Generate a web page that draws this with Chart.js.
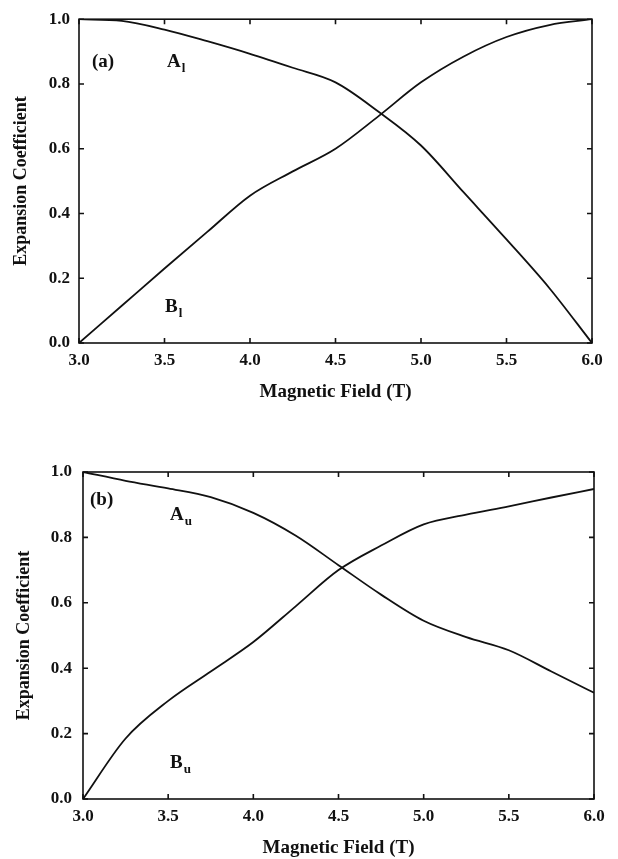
<!DOCTYPE html>
<html>
<head>
<meta charset="utf-8">
<script src="https://cdn.jsdelivr.net/npm/chart.js@4.4.0/dist/chart.umd.min.js"></script>
<style>
  html, body { margin: 0; padding: 0; background: #fff; }
  #chartA { position: absolute; left: 0; top: 0; }
  #chartB { position: absolute; left: 0; top: 420px; }
</style>
</head>
<body>
<canvas id="chartA" width="618" height="420" style="width:618px;height:420px"></canvas>
<canvas id="chartB" width="618" height="439" style="width:618px;height:439px"></canvas>
<script>
// magnetic field (T)
const field = [3.0, 3.25, 3.5, 3.75, 4.0, 4.25, 4.5, 4.75, 5.0, 5.25, 5.5, 5.75, 6.0];

// panel (a): lower states
const aLower = [1.0, 0.995, 0.968, 0.932, 0.893, 0.85, 0.805, 0.715, 0.61, 0.465, 0.32, 0.17, 0.0];
const bLower = [0.0, 0.115, 0.23, 0.343, 0.455, 0.53, 0.60, 0.70, 0.805, 0.885, 0.945, 0.982, 1.0];

// panel (b): upper states
const aUpper = [1.0, 0.973, 0.95, 0.923, 0.875, 0.805, 0.715, 0.625, 0.545, 0.495, 0.455, 0.39, 0.325];
const bUpper = [0.0, 0.185, 0.30, 0.39, 0.48, 0.59, 0.70, 0.775, 0.84, 0.87, 0.895, 0.922, 0.948];

const xTicks = [3.0, 3.5, 4.0, 4.5, 5.0, 5.5, 6.0];
const yTicks = [0.0, 0.2, 0.4, 0.6, 0.8, 1.0];

const INK = '#111';
const SERIF = '"Liberation Serif", "Times New Roman", serif';

Chart.defaults.font.family = SERIF;
Chart.defaults.font.weight = 'bold';
Chart.defaults.color = INK;

// box around the plot + inward tick marks on all four sides
const frameTicks = {
  id: 'frameTicks',
  afterDatasetsDraw(chart) {
    const { ctx, chartArea: a, scales: { x, y } } = chart;
    const len = 5;
    ctx.save();
    ctx.strokeStyle = INK;
    ctx.lineWidth = 1.6;
    ctx.strokeRect(a.left, a.top, a.right - a.left, a.bottom - a.top);
    ctx.beginPath();
    x.ticks.forEach(t => {
      const px = x.getPixelForValue(t.value);
      ctx.moveTo(px, a.bottom); ctx.lineTo(px, a.bottom - len);
      ctx.moveTo(px, a.top); ctx.lineTo(px, a.top + len);
    });
    y.ticks.forEach(t => {
      const py = y.getPixelForValue(t.value);
      ctx.moveTo(a.left, py); ctx.lineTo(a.left + len, py);
      ctx.moveTo(a.right, py); ctx.lineTo(a.right - len, py);
    });
    ctx.stroke();
    ctx.restore();
  }
};

// "(a)", "A_l" ... text labels placed in data coordinates
const curveLabels = {
  id: 'curveLabels',
  afterDatasetsDraw(chart, args, opts) {
    const { ctx, scales: { x, y } } = chart;
    ctx.save();
    ctx.fillStyle = INK;
    ctx.textBaseline = 'alphabetic';
    ctx.textAlign = 'left';
    (opts.items || []).forEach(it => {
      const px = x.getPixelForValue(it.x);
      const py = y.getPixelForValue(it.y);
      ctx.font = 'bold 19px ' + SERIF;
      ctx.fillText(it.text, px, py);
      if (it.sub) {
        const w = ctx.measureText(it.text).width;
        ctx.font = 'bold 13px ' + SERIF;
        ctx.fillText(it.sub, px + w + 1, py + 5);
      }
    });
    ctx.restore();
  }
};

function makePanel(id, first, second, labels, geo) {
  return new Chart(document.getElementById(id), {
    type: 'line',
    data: {
      datasets: [first, second].map(vals => ({
        data: field.map((f, i) => ({ x: f, y: vals[i] })),
        borderColor: INK,
        borderWidth: 1.8,
        pointRadius: 0,
        fill: false,
        cubicInterpolationMode: 'monotone'
      }))
    },
    options: {
      responsive: false,
      animation: false,
      events: [],
      layout: { padding: { top: geo.top, right: geo.right, left: 0, bottom: 0 } },
      scales: {
        x: {
          type: 'linear',
          min: 3, max: 6,
          afterBuildTicks: s => { s.ticks = xTicks.map(v => ({ value: v })); },
          afterFit: s => { s.height = geo.xHeight; },
          grid: { display: false, drawTicks: false },
          border: { display: false },
          ticks: {
            padding: 7,
            maxRotation: 0,
            font: { size: 17 },
            callback: v => Number(v).toFixed(1)
          },
          title: {
            display: true,
            text: 'Magnetic Field (T)',
            font: { size: 19 },
            padding: { top: 0, bottom: geo.xTitlePad }
          }
        },
        y: {
          min: 0, max: 1,
          afterBuildTicks: s => { s.ticks = yTicks.map(v => ({ value: v })); },
          afterFit: s => { s.width = geo.yWidth; },
          grid: { display: false, drawTicks: false },
          border: { display: false },
          ticks: {
            padding: geo.yTickPad,
            font: { size: 17 },
            callback: v => Number(v).toFixed(1)
          },
          title: {
            display: true,
            text: 'Expansion Coefficient',
            font: { size: 18 },
            padding: { top: geo.yTitlePad, bottom: 0 }
          }
        }
      },
      plugins: {
        legend: { display: false },
        tooltip: { enabled: false },
        curveLabels: { items: labels }
      }
    },
    plugins: [frameTicks, curveLabels]
  });
}

makePanel('chartA', aLower, bLower, [
  { text: '(a)', x: 3.076, y: 0.851 },
  { text: 'A', sub: 'l', x: 3.515, y: 0.851 },
  { text: 'B', sub: 'l', x: 3.503, y: 0.097 }
], { top: 14, right: 26, xHeight: 77, yWidth: 79, xTitlePad: 17, yTitlePad: 11, yTickPad: 9 });

makePanel('chartB', aUpper, bUpper, [
  { text: '(b)', x: 3.041, y: 0.899 },
  { text: 'A', sub: 'u', x: 3.511, y: 0.853 },
  { text: 'B', sub: 'u', x: 3.511, y: 0.095 }
], { top: 52, right: 24, xHeight: 60, yWidth: 83, xTitlePad: 0, yTitlePad: 14, yTickPad: 11 });
</script>
</body>
</html>
